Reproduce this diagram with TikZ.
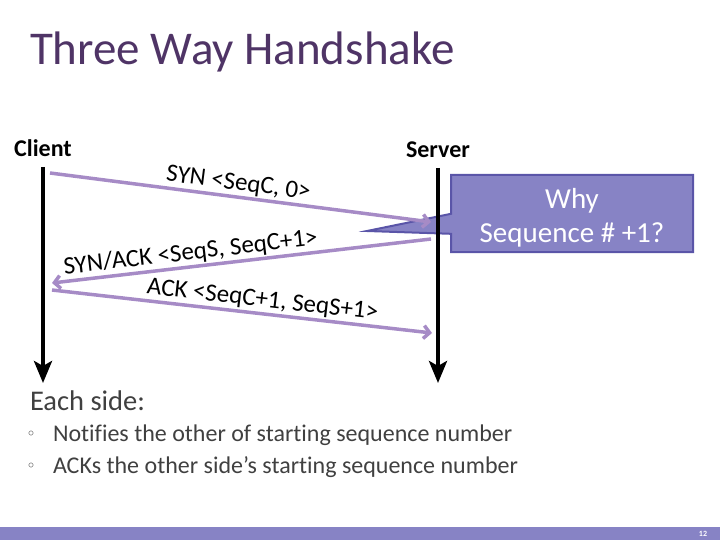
\documentclass[tikz,border=0pt]{standalone}
\usepackage{fontspec}
\setmainfont[Ligatures=NoCommon]{Carlito}
\usetikzlibrary{arrows.meta,positioning,shapes.callouts}

\definecolor{titlepurple}{HTML}{4F3466}
\definecolor{msgpurple}{HTML}{A68BC6}
\definecolor{calloutfill}{HTML}{8783C5}
\definecolor{calloutdraw}{HTML}{5A55A8}
\definecolor{bodygray}{HTML}{404040}

\begin{document}
\begin{tikzpicture}[
        x=1pt, y=-1pt,
        every node/.style={inner sep=0pt, outer sep=0pt},
        lifeline/.style={line width=4pt, -{Stealth[length=22pt,width=18pt,inset=5pt]}},
        msg/.style={msgpurple, line width=3.5pt, -{Straight Barb[length=6pt,width=13pt]}},
        msglabel/.style={sloped, above=3pt, font=\fontsize{25}{28}\selectfont},
        endpoint/.style={font=\fontsize{24}{28}\selectfont\bfseries},
        bodytext/.style={anchor=base west, text=bodygray, font=\fontsize{24}{28}\selectfont}
    ]
    \useasboundingbox (0,0) rectangle (720,540);

    % Title
    \node[anchor=base west, text=titlepurple, font=\fontsize{47}{52}\selectfont] (title) at (30,65) {Three Way Handshake};

    % Nodes
    \node[endpoint, anchor=base] (client) at (43,157) {Client};
    \node[endpoint, anchor=base] (server) at (438,158) {Server};

    \coordinate[below=10pt of client.base] (client top);
    \coordinate (client bottom) at (client top |- 0,383);
    \coordinate[below=10pt of server.base] (server top);
    \coordinate (server bottom) at (server top |- 0,383);

    \coordinate (syn start) at (50,173);
    \coordinate (syn end) at (431,222);
    \coordinate (synack start) at (431,239);
    \coordinate (synack end) at (52,283);
    \coordinate (ack start) at (52,290);
    \coordinate (ack end) at (432,333);

    \coordinate (tip) at (367,231);
    \node[rectangle callout, fill=calloutfill, draw=calloutdraw, line width=2pt,
          minimum width=242pt, minimum height=77pt, callout absolute pointer={(tip)},
          callout pointer width=20pt] (why) at (572,213.5) {};
    \node[align=center, text=white, font=\fontsize{29}{34}\selectfont] (why text)
          at ([yshift=-4pt]why.center) {Why\\Sequence \# +1?};

    % Edges
    \draw[lifeline] (client top) -- (client bottom);
    \draw[lifeline] (server top) -- (server bottom);

    \draw[msg] (syn start) -- node[msglabel, pos=0.49, text=black] {SYN <SeqC, 0>} (syn end);
    \draw[msg] (synack start) -- node[msglabel, pos=0.63, text=black] {SYN/ACK <SeqS, SeqC+1>} (synack end);
    \draw[msg] (ack start) -- node[msglabel, pos=0.55, text=black] {ACK <SeqC+1, SeqS+1>} (ack end);

    % Text below
    \node[bodytext, font=\fontsize{28.5}{32}\selectfont] (each) at (30,410) {Each side:};
    \node[bodytext] (first) at (53,441) {Notifies the other of starting sequence number};
    \node[bodytext] (second) at (53,473) {ACKs the other side’s starting sequence number};
    \node[text=bodygray, font=\fontsize{12}{12}\selectfont] (dot1) at (31,434) {$\circ$};
    \node[text=bodygray, font=\fontsize{12}{12}\selectfont] (dot2) at (31,466) {$\circ$};

    % Footer
    \fill[calloutfill] (0,527) rectangle (720,540);
    \node[text=white, font=\fontsize{8}{8}\selectfont\bfseries] (page) at (703,533.5) {12};

\end{tikzpicture}
\end{document}
